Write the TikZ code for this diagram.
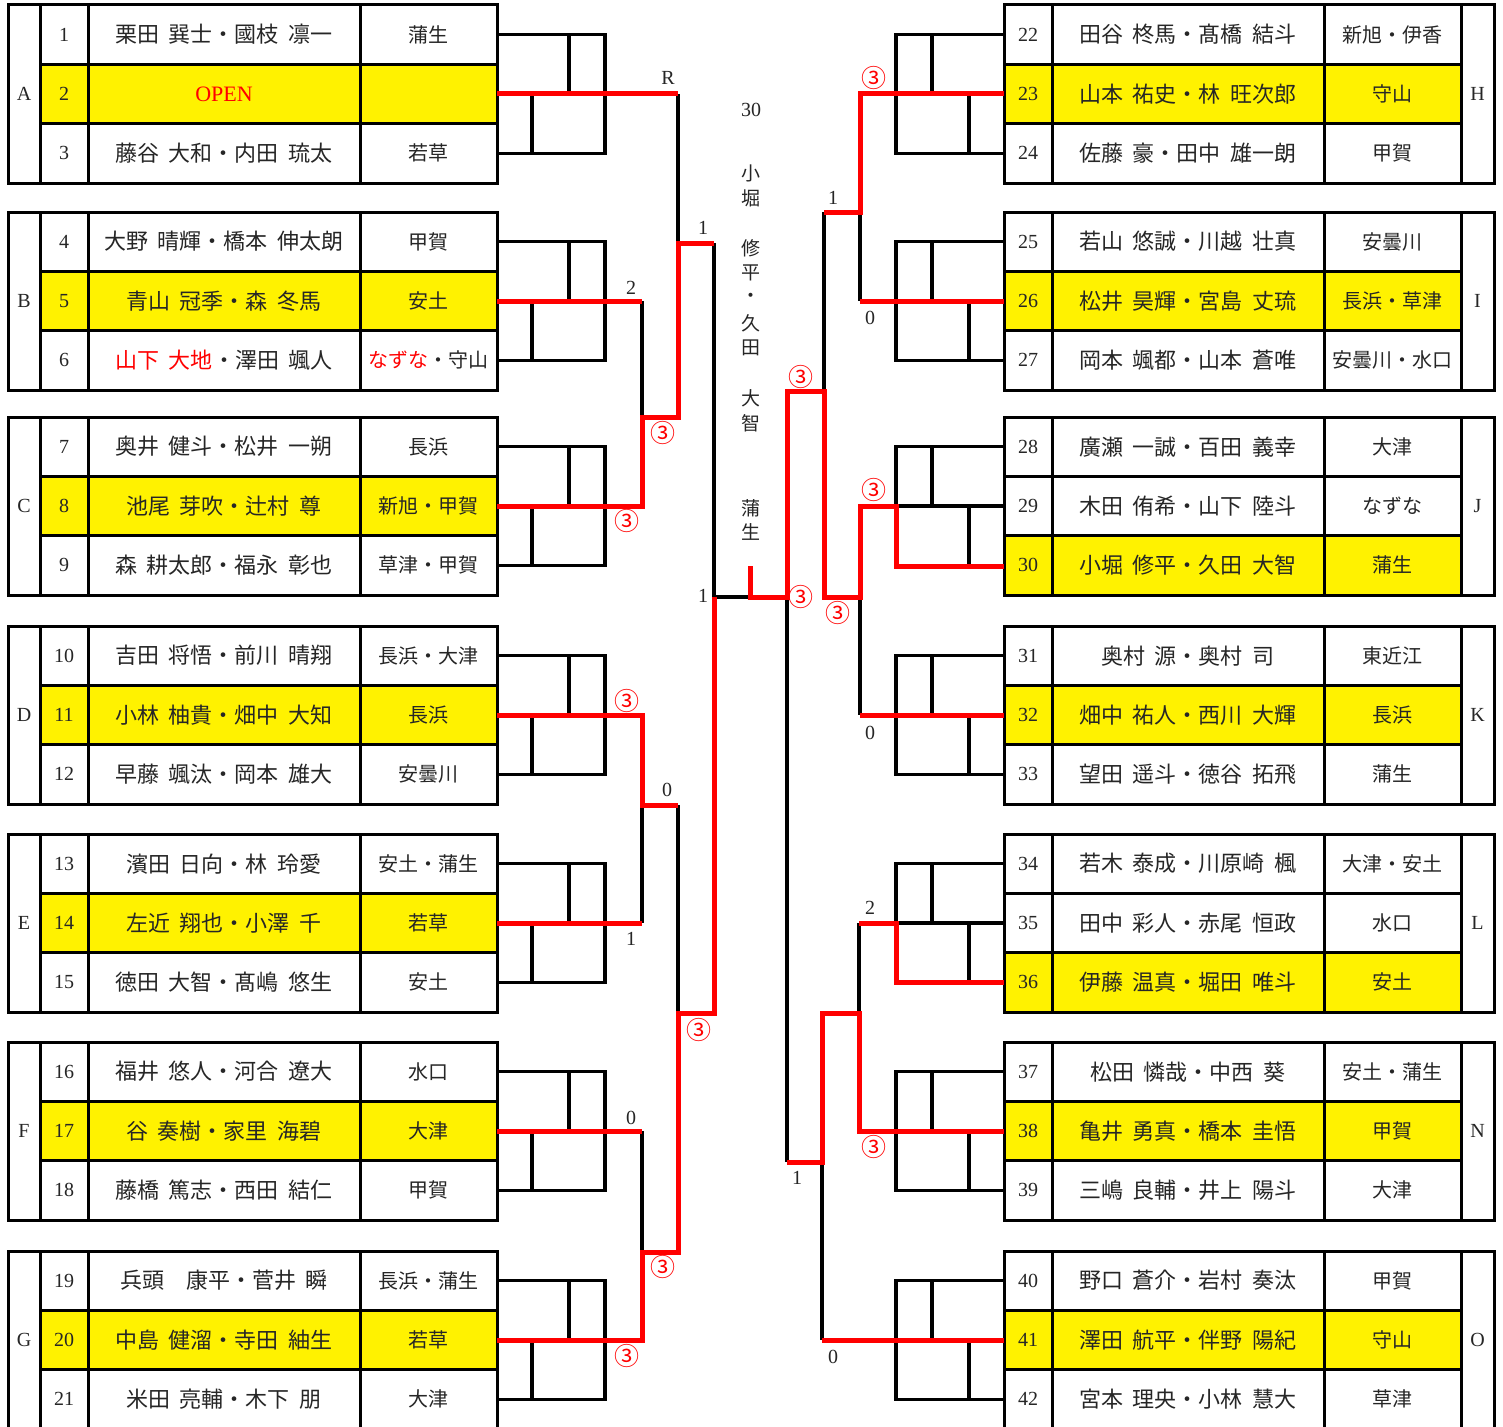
\documentclass[tikz,border=0pt]{standalone}
\usepackage{fontspec}
\setmainfont{Liberation Serif}
\newfontfamily\jp[WordSpace=2]{Noto Sans CJK JP}
\tikzset{
 tbl/.style={line width=3pt,black},
 blk/.style={line width=3.5pt,black},
 redl/.style={line width=5pt,red},
 numtxt/.style={font=\fontsize{20}{24}\selectfont, inner sep=0pt, text=black!85},
 nametxt/.style={font=\jp\fontsize{22}{26}\selectfont, inner sep=0pt, text=black!85},
 teamtxt/.style={font=\jp\fontsize{20}{24}\selectfont, inner sep=0pt, text=black!85},
 score/.style={font=\fontsize{20}{24}\selectfont, inner sep=0pt, text=black!85},
 rscore/.style={font=\jp\fontsize{25}{28}\selectfont, inner sep=0pt, text=red},
 ctxt/.style={font=\jp\fontsize{19}{22}\selectfont, inner sep=0pt, text=black!85},
}
% left group: #1 top, #2 letter, #3 winner row
\newcommand\LG[3]{%
 \pgfmathsetmacro\ta{#1}\pgfmathsetmacro\tb{#1+59.3}\pgfmathsetmacro\tc{#1+118.6}\pgfmathsetmacro\td{#1+178}%
 \pgfmathsetmacro\ra{#1+29.65}\pgfmathsetmacro\rb{#1+88.95}\pgfmathsetmacro\rc{#1+148.25}%
 \pgfmathsetmacro\ya{#1+59.3*(#3-1)}\pgfmathsetmacro\yb{#1+59.3*#3}%
 \fill[yellow] (40,\ya) rectangle (497,\yb);
 \draw[tbl] (8,\ta) rectangle (497,\td);
 \draw[tbl] (40,\ta) -- (40,\td) (88,\ta) -- (88,\td) (360,\ta) -- (360,\td)
   (40,\tb) -- (497,\tb) (40,\tc) -- (497,\tc);
 \node[numtxt] (G#2) at (24,\rb) {#2};
 \draw[blk] (497,\ra) -- (605,\ra) -- (605,\rc) -- (497,\rc)
   (569,\ra) -- (569,\rb) (532,\rb) -- (532,\rc) (497,\rb) -- (605,\rb);
}
% right group
\newcommand\RG[3]{%
 \pgfmathsetmacro\ta{#1}\pgfmathsetmacro\tb{#1+59.3}\pgfmathsetmacro\tc{#1+118.6}\pgfmathsetmacro\td{#1+178}%
 \pgfmathsetmacro\ra{#1+29.65}\pgfmathsetmacro\rb{#1+88.95}\pgfmathsetmacro\rc{#1+148.25}%
 \pgfmathsetmacro\ya{#1+59.3*(#3-1)}\pgfmathsetmacro\yb{#1+59.3*#3}%
 \fill[yellow] (1004,\ya) rectangle (1461,\yb);
 \draw[tbl] (1004,\ta) rectangle (1494,\td);
 \draw[tbl] (1052,\ta) -- (1052,\td) (1324,\ta) -- (1324,\td) (1461,\ta) -- (1461,\td)
   (1004,\tb) -- (1461,\tb) (1004,\tc) -- (1461,\tc);
 \node[numtxt] (G#2) at (1477.5,\rb) {#2};
 \draw[blk] (1004,\ra) -- (896,\ra) -- (896,\rc) -- (1004,\rc)
   (932,\ra) -- (932,\rb) (969,\rb) -- (969,\rc) (1004,\rb) -- (896,\rb);
}
% rows: #1 top, #2 row index, #3 number, #4 name, #5 team
\newcommand\LR[5]{%
 \pgfmathsetmacro\ry{#1+29.65+59.3*(#2-1)}%
 \node[numtxt] (n#3) at (64,\ry) {#3};
 \node[nametxt] (m#3) at (224,\ry) {#4};
 \node[teamtxt] (t#3) at (428.5,\ry) {#5};
}
\newcommand\RR[5]{%
 \pgfmathsetmacro\ry{#1+29.65+59.3*(#2-1)}%
 \node[numtxt] (n#3) at (1028,\ry) {#3};
 \node[nametxt] (m#3) at (1188,\ry) {#4};
 \node[teamtxt] (t#3) at (1392.5,\ry) {#5};
}
\begin{document}
\begin{tikzpicture}[x=1pt,y=-1pt,line join=miter]
\useasboundingbox (0,0) rectangle (1503,1426);
\clip (0,0) rectangle (1503,1426);
\fill[white] (0,0) rectangle (1503,1426);

% ---------- left groups ----------
\LG{5}{A}{2}
\LR{5}{1}{1}{栗田 巽士・國枝 凛一}{蒲生}
\LR{5}{2}{2}{\rmfamily\fontsize{22}{26}\selectfont\textcolor{red}{OPEN}}{}
\LR{5}{3}{3}{藤谷 大和・内田 琉太}{若草}
\LG{212}{B}{2}
\LR{212}{1}{4}{大野 晴輝・橋本 伸太朗}{甲賀}
\LR{212}{2}{5}{青山 冠季・森 冬馬}{安土}
\LR{212}{3}{6}{\textcolor{red}{山下 大地}・澤田 颯人}{\textcolor{red}{なずな}・守山}
\LG{417}{C}{2}
\LR{417}{1}{7}{奥井 健斗・松井 一朔}{長浜}
\LR{417}{2}{8}{池尾 芽吹・辻村 尊}{新旭・甲賀}
\LR{417}{3}{9}{森 耕太郎・福永 彰也}{草津・甲賀}
\LG{626}{D}{2}
\LR{626}{1}{10}{吉田 将悟・前川 晴翔}{長浜・大津}
\LR{626}{2}{11}{小林 柚貴・畑中 大知}{長浜}
\LR{626}{3}{12}{早藤 颯汰・岡本 雄大}{安曇川}
\LG{834}{E}{2}
\LR{834}{1}{13}{濱田 日向・林 玲愛}{安土・蒲生}
\LR{834}{2}{14}{左近 翔也・小澤 千}{若草}
\LR{834}{3}{15}{徳田 大智・髙嶋 悠生}{安土}
\LG{1042}{F}{2}
\LR{1042}{1}{16}{福井 悠人・河合 遼大}{水口}
\LR{1042}{2}{17}{谷 奏樹・家里 海碧}{大津}
\LR{1042}{3}{18}{藤橋 篤志・西田 結仁}{甲賀}
\LG{1251}{G}{2}
\LR{1251}{1}{19}{兵頭　康平・菅井 瞬}{長浜・蒲生}
\LR{1251}{2}{20}{中島 健溜・寺田 紬生}{若草}
\LR{1251}{3}{21}{米田 亮輔・木下 朋}{大津}

% ---------- right groups ----------
\RG{5}{H}{2}
\RR{5}{1}{22}{田谷 柊馬・髙橋 結斗}{新旭・伊香}
\RR{5}{2}{23}{山本 祐史・林 旺次郎}{守山}
\RR{5}{3}{24}{佐藤 豪・田中 雄一朗}{甲賀}
\RG{212}{I}{2}
\RR{212}{1}{25}{若山 悠誠・川越 壮真}{安曇川}
\RR{212}{2}{26}{松井 昊輝・宮島 丈琉}{長浜・草津}
\RR{212}{3}{27}{岡本 颯都・山本 蒼唯}{安曇川・水口}
\RG{417}{J}{3}
\RR{417}{1}{28}{廣瀬 一誠・百田 義幸}{大津}
\RR{417}{2}{29}{木田 侑希・山下 陸斗}{なずな}
\RR{417}{3}{30}{小堀 修平・久田 大智}{蒲生}
\RG{626}{K}{2}
\RR{626}{1}{31}{奥村 源・奥村 司}{東近江}
\RR{626}{2}{32}{畑中 祐人・西川 大輝}{長浜}
\RR{626}{3}{33}{望田 遥斗・徳谷 拓飛}{蒲生}
\RG{834}{L}{3}
\RR{834}{1}{34}{若木 泰成・川原崎 楓}{大津・安土}
\RR{834}{2}{35}{田中 彩人・赤尾 恒政}{水口}
\RR{834}{3}{36}{伊藤 温真・堀田 唯斗}{安土}
\RG{1042}{N}{2}
\RR{1042}{1}{37}{松田 憐哉・中西 葵}{安土・蒲生}
\RR{1042}{2}{38}{亀井 勇真・橋本 圭悟}{甲賀}
\RR{1042}{3}{39}{三嶋 良輔・井上 陽斗}{大津}
\RG{1251}{O}{2}
\RR{1251}{1}{40}{野口 蒼介・岩村 奏汰}{甲賀}
\RR{1251}{2}{41}{澤田 航平・伴野 陽紀}{守山}
\RR{1251}{3}{42}{宮本 理央・小林 慧大}{草津}

% ---------- left bracket (black) ----------
\draw[blk] (678,94) -- (678,243);
\draw[blk] (642,301) -- (642,417);
\draw[blk] (714,243) -- (714,597) -- (750,597);
\draw[blk] (642,805) -- (642,923);
\draw[blk] (678,805) -- (678,1013);
\draw[blk] (642,1131) -- (642,1252);
% ---------- right bracket (black) ----------
\draw[blk] (824,212) -- (824,391);
\draw[blk] (860,212) -- (860,301);
\draw[blk] (860,597) -- (860,715);
\draw[blk] (787,597) -- (787,1162);
\draw[blk] (859,923) -- (859,1013);
\draw[blk] (822,1162) -- (822,1340);

% ---------- left bracket (red) ----------
\draw[redl] (497,94) -- (678,94);
\draw[redl] (497,301) -- (642,301);
\draw[redl] (497,506) -- (642,506) -- (642,417) -- (678,417) -- (678,243) -- (714,243);
\draw[redl] (497,715) -- (642,715) -- (642,805) -- (678,805);
\draw[redl] (497,923) -- (642,923);
\draw[redl] (497,1131) -- (642,1131);
\draw[redl] (497,1340) -- (642,1340) -- (642,1252) -- (678,1252) -- (678,1013) -- (714,1013) -- (714,597);
\draw[redl] (750,566) -- (750,597) -- (787,597);
% ---------- right bracket (red) ----------
\draw[redl] (1004,94) -- (860,94) -- (860,212) -- (824,212);
\draw[redl] (1004,301) -- (860,301);
\draw[redl] (1004,566) -- (896,566) -- (896,506) -- (860,506) -- (860,597) -- (824,597) -- (824,391) -- (787,391) -- (787,597) -- (750,597);
\draw[redl] (1004,715) -- (860,715);
\draw[redl] (1004,982) -- (896,982) -- (896,923) -- (859,923);
\draw[redl] (1004,1131) -- (859,1131) -- (859,1013) -- (822,1013) -- (822,1162) -- (787,1162);
\draw[redl] (1004,1340) -- (822,1340);

% ---------- scores left ----------
\node[score] (sR) at (668,78) {R};
\node[score] (s1) at (703,228) {1};
\node[score] (s2) at (631,288) {2};
\node[rscore] (s3) at (663,433) {③};
\node[rscore] (s4) at (627,521) {③};
\node[score] (s5) at (703,596) {1};
\node[rscore] (s6) at (627,701) {③};
\node[score] (s7) at (667,790) {0};
\node[score] (s8) at (631,939) {1};
\node[rscore] (s9) at (699,1030) {③};
\node[score] (s10) at (631,1118) {0};
\node[rscore] (s11) at (663,1267) {③};
\node[rscore] (s12) at (627,1356) {③};
% ---------- scores right ----------
\node[rscore] (s13) at (874,78) {③};
\node[score] (s14) at (833,198) {1};
\node[score] (s15) at (870,318) {0};
\node[rscore] (s16) at (801,377) {③};
\node[rscore] (s17) at (874,490) {③};
\node[rscore] (s18) at (801,597) {③};
\node[rscore] (s19) at (838,613) {③};
\node[score] (s20) at (870,733) {0};
\node[score] (s21) at (870,908) {2};
\node[rscore] (s22) at (874,1147) {③};
\node[score] (s23) at (797,1178) {1};
\node[score] (s24) at (833,1357) {0};

% ---------- champion ----------
\node[score] (c0) at (751,110) {30};
\node[ctxt] (c1) at (751,173) {小};
\node[ctxt] (c2) at (751,198) {堀};
\node[ctxt] (c3) at (751,248) {修};
\node[ctxt] (c4) at (751,273) {平};
\node[ctxt] (c5) at (751,298) {・};
\node[ctxt] (c6) at (751,323) {久};
\node[ctxt] (c7) at (751,348) {田};
\node[ctxt] (c8) at (751,398) {大};
\node[ctxt] (c9) at (751,423) {智};
\node[ctxt] (c10) at (751,508) {蒲};
\node[ctxt] (c11) at (751,532) {生};
\end{tikzpicture}
\end{document}
